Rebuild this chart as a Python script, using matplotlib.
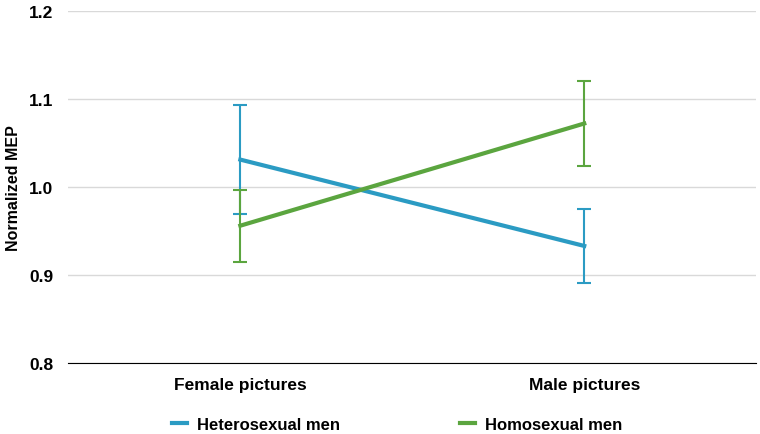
import matplotlib
matplotlib.use("Agg")
import matplotlib.pyplot as plt

plt.rcParams['font.family'] = ['Liberation Sans', 'DejaVu Sans']
plt.rcParams['font.weight'] = 'bold'
plt.rcParams['axes.labelweight'] = 'bold'

conditions = ['Female pictures', 'Male pictures']
hetero_mean = [1.031, 0.933]
hetero_err = [0.062, 0.042]
homo_mean = [0.956, 1.072]
homo_err = [0.041, 0.048]
yticks = [0.8, 0.9, 1.0, 1.1, 1.2]

blue = '#2b9bc3'
green = '#5ba53f'

fig = plt.figure(figsize=(7.6, 4.35), dpi=100)
ax = fig.add_axes([0.09, 0.163, 0.905, 0.81])

x = [0, 1]
ax.errorbar(x, hetero_mean, yerr=hetero_err, color=blue, lw=3, elinewidth=1.5,
            capsize=5, capthick=1.5, label='Heterosexual men', zorder=3)
ax.errorbar(x, homo_mean, yerr=homo_err, color=green, lw=3, elinewidth=1.5,
            capsize=5, capthick=1.5, label='Homosexual men', zorder=3)

ax.set_xlim(-0.5, 1.5)
ax.set_ylim(0.8, 1.2)
ax.set_yticks(yticks)
ax.set_yticklabels(['%.1f' % v for v in yticks])
ax.set_xticks(x)
ax.set_xticklabels(conditions)
ax.grid(axis='y', color='#d9d9d9', lw=1)
ax.set_axisbelow(True)
for s in ['top', 'right', 'left']:
    ax.spines[s].set_visible(False)
ax.spines['bottom'].set_color('black')
ax.tick_params(axis='both', length=0, labelsize=12.5, pad=10)
ax.tick_params(axis='y', pad=11)
ax.set_ylabel('Normalized MEP', fontsize=11.5)
ax.yaxis.set_label_coords(-0.069, 0.5)

h, l = ax.get_legend_handles_labels()
h = [hh[0] for hh in h]
ax.legend(h, l, loc='upper center', bbox_to_anchor=(0.478, -0.11), ncol=2,
          frameon=False, fontsize=12, handlelength=0.9, handletextpad=0.6,
          columnspacing=7.2)

fig.savefig('out.png', dpi=100)
